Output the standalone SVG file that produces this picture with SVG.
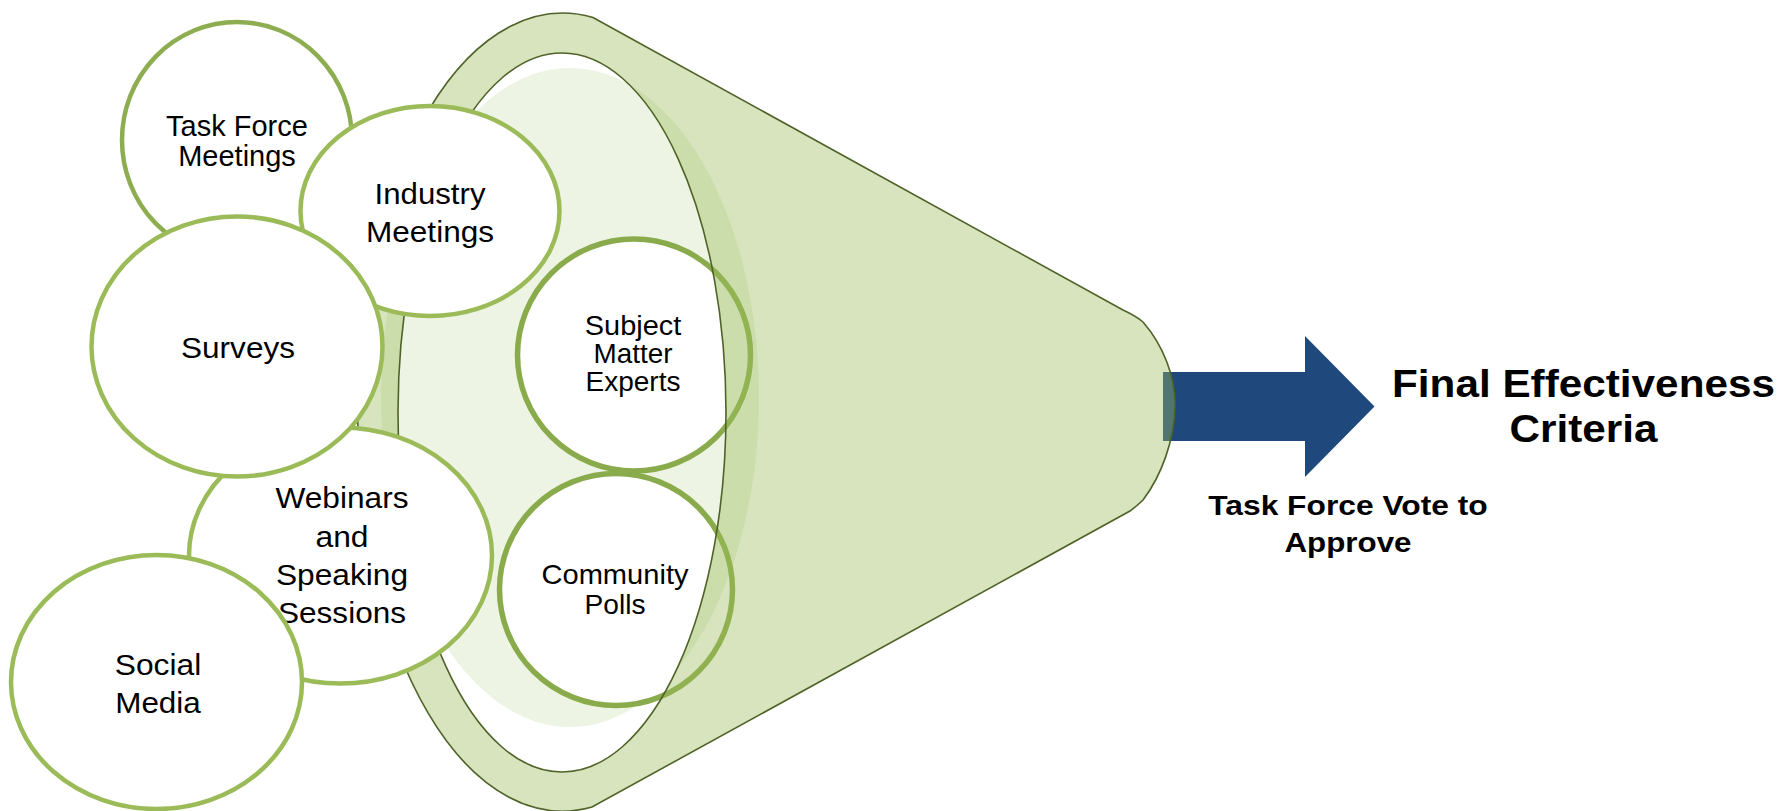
<svg xmlns="http://www.w3.org/2000/svg" width="1781" height="811" viewBox="0 0 1781 811">
  <defs>
    <style>
      .bubble { fill: #ffffff; stroke: #9bbb59; stroke-width: 4.5; }
      .bubble-dark { fill: #ffffff; stroke: #8aab4c; stroke-width: 5.5; }
      .bubble-tf { fill: #ffffff; stroke: #8dad50; stroke-width: 4.5; }
      .lbl { font-family: "Liberation Sans", Arial, sans-serif; fill: #000000; text-anchor: middle; }
      .lbl-bold { font-family: "Liberation Sans", Arial, sans-serif; font-weight: bold; fill: #000000; text-anchor: middle; }
      .tint { fill: #9bbb59; }
      .edge { fill: none; stroke: #4f6228; stroke-width: 1.6; }
    </style>
    <!-- opening of the funnel -->
    <clipPath id="mouth-clip">
      <ellipse cx="562" cy="412.5" rx="164" ry="359.5"/>
    </clipPath>
    <!-- funnel body with the opening cut out -->
    <clipPath id="rim-clip">
      <path clip-rule="evenodd" d="M593,17.5 L1123,310 Q1136,316 1143,322 C1163,345 1176,377 1175,408 C1174,440 1162,475 1143,500 Q1137,506 1130,511 L592,807 A205,399 0 1 1 593,17.5 Z M398,412.5 A164,359.5 0 1 0 726,412.5 A164,359.5 0 1 0 398,412.5 Z"/>
    </clipPath>
  </defs>

  <g id="task-force-meetings">
    <ellipse class="bubble-tf" cx="237" cy="140" rx="115" ry="118"/>
    <text class="lbl" font-size="29" x="237" y="136">Task Force</text>
    <text class="lbl" font-size="29" x="237" y="166">Meetings</text>
  </g>

  <!-- inside of the funnel, seen through the opening -->
  <g id="funnel-back">
    <ellipse class="tint" opacity="0.17" cx="570" cy="397.5" rx="189" ry="329.5" clip-path="url(#mouth-clip)"/>
  </g>

  <g id="subject-matter-experts">
    <ellipse class="bubble-dark" cx="634" cy="355" rx="116.5" ry="116"/>
    <text class="lbl" font-size="27.5" x="633" y="334.5" textLength="96.5" lengthAdjust="spacingAndGlyphs">Subject</text>
    <text class="lbl" font-size="27.5" x="633" y="363" textLength="79" lengthAdjust="spacingAndGlyphs">Matter</text>
    <text class="lbl" font-size="27.5" x="633" y="391" textLength="95" lengthAdjust="spacingAndGlyphs">Experts</text>
  </g>

  <g id="community-polls">
    <ellipse class="bubble-dark" cx="616" cy="589.5" rx="116.5" ry="116"/>
    <text class="lbl" font-size="28" x="615" y="584" textLength="147" lengthAdjust="spacingAndGlyphs">Community</text>
    <text class="lbl" font-size="28" x="615" y="614" textLength="61" lengthAdjust="spacingAndGlyphs">Polls</text>
  </g>

  <g id="connectors">
    <polygon fill="#1f497d" points="1163,372 1305,372 1305,336 1374.5,406.5 1305,477 1305,441 1163,441"/>
  </g>

  <!-- funnel rim and cone, translucent over what lies beneath -->
  <g id="funnel-front">
    <path class="tint" opacity="0.4" fill-rule="evenodd" d="M593,17.5 L1123,310 Q1136,316 1143,322 C1163,345 1176,377 1175,408 C1174,440 1162,475 1143,500 Q1137,506 1130,511 L592,807 A205,399 0 1 1 593,17.5 Z M398,412.5 A164,359.5 0 1 0 726,412.5 A164,359.5 0 1 0 398,412.5 Z"/>
    <ellipse class="tint" opacity="0.17" cx="570" cy="397.5" rx="189" ry="329.5" clip-path="url(#rim-clip)"/>
    <path class="edge" d="M593,17.5 L1123,310 Q1136,316 1143,322 C1163,345 1176,377 1175,408 C1174,440 1162,475 1143,500 Q1137,506 1130,511 L592,807 A205,399 0 1 1 593,17.5 Z"/>
    <ellipse class="edge" cx="562" cy="412.5" rx="164" ry="359.5"/>
  </g>

  <g id="industry-meetings">
    <ellipse class="bubble" cx="430" cy="211" rx="129.5" ry="105"/>
    <text class="lbl" font-size="29.5" x="430" y="204" textLength="111" lengthAdjust="spacingAndGlyphs">Industry</text>
    <text class="lbl" font-size="29.5" x="430" y="241.5" textLength="128" lengthAdjust="spacingAndGlyphs">Meetings</text>
  </g>

  <g id="webinars-speaking-sessions">
    <ellipse class="bubble" cx="340.5" cy="555.5" rx="151.5" ry="128"/>
    <text class="lbl" font-size="29.5" x="342" y="508" textLength="133" lengthAdjust="spacingAndGlyphs">Webinars</text>
    <text class="lbl" font-size="29.5" x="342" y="546.5" textLength="53" lengthAdjust="spacingAndGlyphs">and</text>
    <text class="lbl" font-size="29.5" x="342" y="585" textLength="132" lengthAdjust="spacingAndGlyphs">Speaking</text>
    <text class="lbl" font-size="29.5" x="342" y="623" textLength="128" lengthAdjust="spacingAndGlyphs">Sessions</text>
  </g>

  <g id="surveys">
    <ellipse class="bubble" cx="237" cy="346.5" rx="145.5" ry="130"/>
    <text class="lbl" font-size="29.5" x="238" y="357.5" textLength="114" lengthAdjust="spacingAndGlyphs">Surveys</text>
  </g>

  <g id="social-media">
    <ellipse class="bubble" cx="156.5" cy="682" rx="145.5" ry="127"/>
    <text class="lbl" font-size="29.5" x="158" y="675" textLength="86.5" lengthAdjust="spacingAndGlyphs">Social</text>
    <text class="lbl" font-size="29.5" x="158" y="713" textLength="85.5" lengthAdjust="spacingAndGlyphs">Media</text>
  </g>

  <g id="final-effectiveness-criteria">
    <text class="lbl-bold" font-size="38.5" x="1583.5" y="397" textLength="383" lengthAdjust="spacingAndGlyphs">Final Effectiveness</text>
    <text class="lbl-bold" font-size="38.5" x="1583.5" y="441.5" textLength="148" lengthAdjust="spacingAndGlyphs">Criteria</text>
  </g>

  <g id="task-force-vote">
    <text class="lbl-bold" font-size="28.5" x="1348" y="515" textLength="279.5" lengthAdjust="spacingAndGlyphs">Task Force Vote to</text>
    <text class="lbl-bold" font-size="28.5" x="1348" y="552" textLength="127" lengthAdjust="spacingAndGlyphs">Approve</text>
  </g>
</svg>
